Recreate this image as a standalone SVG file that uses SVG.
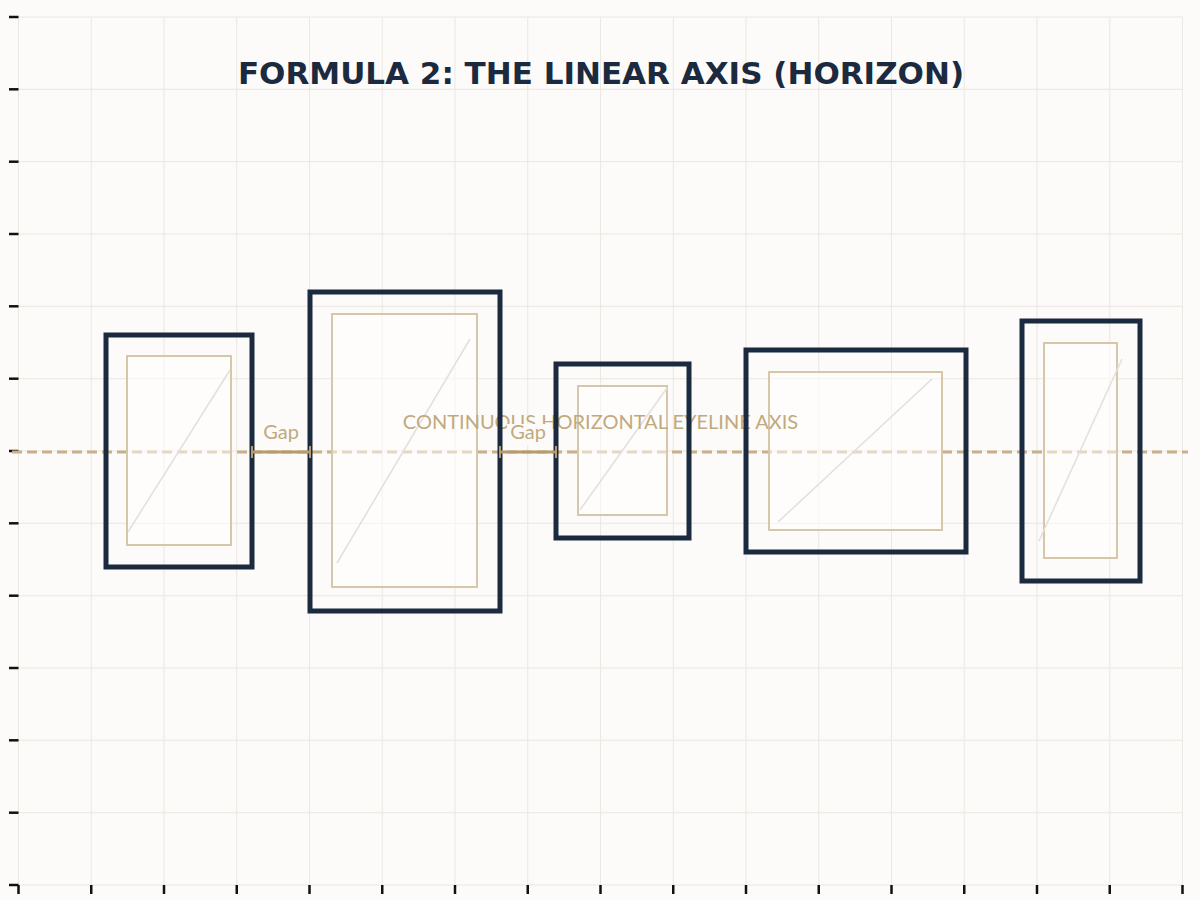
<svg xmlns="http://www.w3.org/2000/svg" width="1200" height="900" viewBox="0 0 1200 900">
<defs>
<style>
.grid{stroke:#ebe7e1;stroke-width:1;fill:none}
.tick{stroke:#111;stroke-width:2.5}
.outer{fill:none;stroke:#1b2a3e;stroke-width:5}
.inner{fill:#ffffff;fill-opacity:0.5;stroke:#d6c7a8;stroke-width:2}
.diag{stroke:#e2e0dc;stroke-width:1.5}
.axis{stroke:#c8b08a;stroke-width:3;stroke-dasharray:10 5}
.gapline{stroke:#b89b6c;stroke-width:3}
.gapbg{fill:#fcfbf9}
.gaptxt{font-family:"Lato","Noto Sans",sans-serif;font-size:20px;fill:#c2a97d;text-anchor:middle}
.axtxt{font-family:"Lato","Noto Sans",sans-serif;font-size:20px;fill:#c2a97d;text-anchor:middle}
.title{font-family:"DejaVu Sans",sans-serif;font-weight:bold;font-size:31px;fill:#1b2a3e;text-anchor:middle}
</style>
</defs>
<rect width="1200" height="900" fill="#fcfbf9"/>
<g id="grid" class="grid">
<line x1="18.5" y1="17" x2="18.5" y2="885"/><line x1="91.25" y1="17" x2="91.25" y2="885"/><line x1="164" y1="17" x2="164" y2="885"/><line x1="236.75" y1="17" x2="236.75" y2="885"/><line x1="309.5" y1="17" x2="309.5" y2="885"/><line x1="382.25" y1="17" x2="382.25" y2="885"/><line x1="455" y1="17" x2="455" y2="885"/><line x1="527.75" y1="17" x2="527.75" y2="885"/><line x1="600.5" y1="17" x2="600.5" y2="885"/><line x1="673.25" y1="17" x2="673.25" y2="885"/><line x1="746" y1="17" x2="746" y2="885"/><line x1="818.75" y1="17" x2="818.75" y2="885"/><line x1="891.5" y1="17" x2="891.5" y2="885"/><line x1="964.25" y1="17" x2="964.25" y2="885"/><line x1="1037" y1="17" x2="1037" y2="885"/><line x1="1109.75" y1="17" x2="1109.75" y2="885"/><line x1="1182.5" y1="17" x2="1182.5" y2="885"/>
<line x1="18.5" y1="17" x2="1182.5" y2="17"/><line x1="18.5" y1="89.3" x2="1182.5" y2="89.3"/><line x1="18.5" y1="161.7" x2="1182.5" y2="161.7"/><line x1="18.5" y1="234" x2="1182.5" y2="234"/><line x1="18.5" y1="306.3" x2="1182.5" y2="306.3"/><line x1="18.5" y1="378.7" x2="1182.5" y2="378.7"/><line x1="18.5" y1="451" x2="1182.5" y2="451"/><line x1="18.5" y1="523.3" x2="1182.5" y2="523.3"/><line x1="18.5" y1="595.7" x2="1182.5" y2="595.7"/><line x1="18.5" y1="668" x2="1182.5" y2="668"/><line x1="18.5" y1="740.3" x2="1182.5" y2="740.3"/><line x1="18.5" y1="812.7" x2="1182.5" y2="812.7"/><line x1="18.5" y1="885" x2="1182.5" y2="885"/>
</g>
<g id="ticks" class="tick">
<line x1="9" y1="17" x2="18.5" y2="17"/><line x1="9" y1="89.3" x2="18.5" y2="89.3"/><line x1="9" y1="161.7" x2="18.5" y2="161.7"/><line x1="9" y1="234" x2="18.5" y2="234"/><line x1="9" y1="306.3" x2="18.5" y2="306.3"/><line x1="9" y1="378.7" x2="18.5" y2="378.7"/><line x1="9" y1="451" x2="18.5" y2="451"/><line x1="9" y1="523.3" x2="18.5" y2="523.3"/><line x1="9" y1="595.7" x2="18.5" y2="595.7"/><line x1="9" y1="668" x2="18.5" y2="668"/><line x1="9" y1="740.3" x2="18.5" y2="740.3"/><line x1="9" y1="812.7" x2="18.5" y2="812.7"/><line x1="9" y1="885" x2="18.5" y2="885"/>
<line x1="18.5" y1="885" x2="18.5" y2="894"/><line x1="91.25" y1="885" x2="91.25" y2="894"/><line x1="164" y1="885" x2="164" y2="894"/><line x1="236.75" y1="885" x2="236.75" y2="894"/><line x1="309.5" y1="885" x2="309.5" y2="894"/><line x1="382.25" y1="885" x2="382.25" y2="894"/><line x1="455" y1="885" x2="455" y2="894"/><line x1="527.75" y1="885" x2="527.75" y2="894"/><line x1="600.5" y1="885" x2="600.5" y2="894"/><line x1="673.25" y1="885" x2="673.25" y2="894"/><line x1="746" y1="885" x2="746" y2="894"/><line x1="818.75" y1="885" x2="818.75" y2="894"/><line x1="891.5" y1="885" x2="891.5" y2="894"/><line x1="964.25" y1="885" x2="964.25" y2="894"/><line x1="1037" y1="885" x2="1037" y2="894"/><line x1="1109.75" y1="885" x2="1109.75" y2="894"/><line x1="1182.5" y1="885" x2="1182.5" y2="894"/>
</g>
<text class="title" x="601" y="84">FORMULA 2: THE LINEAR AXIS (HORIZON)</text>
<g id="connectors">
<line id="eyeline" class="axis" x1="12" y1="452" x2="1188" y2="452"/>
</g>
<g id="frame1-mat"><rect class="inner" x="127" y="356" width="104" height="189"/><line class="diag" x1="128" y1="532" x2="230" y2="370"/></g>
<g id="frame2-mat"><rect class="inner" x="332" y="314" width="145" height="273"/><line class="diag" x1="337" y1="563" x2="470" y2="339"/></g>
<g id="frame3-mat"><rect class="inner" x="578" y="386" width="89" height="129"/><line class="diag" x1="580" y1="510" x2="667" y2="388"/></g>
<g id="frame4-mat"><rect class="inner" x="769" y="372" width="173" height="158"/><line class="diag" x1="778" y1="522" x2="932" y2="379"/></g>
<g id="frame5-mat"><rect class="inner" x="1044" y="343" width="73" height="215"/><line class="diag" x1="1039" y1="541" x2="1122" y2="359"/></g>
<text id="axis-label" class="axtxt" x="600.5" y="429">CONTINUOUS HORIZONTAL EYELINE AXIS</text>
<g id="frame1"><rect class="outer" x="106" y="335" width="146" height="232"/></g>
<g id="frame2"><rect class="outer" x="310" y="292" width="190" height="319"/></g>
<g id="frame3"><rect class="outer" x="556" y="364" width="133" height="174"/></g>
<g id="frame4"><rect class="outer" x="746" y="350" width="220" height="202"/></g>
<g id="frame5"><rect class="outer" x="1022" y="321" width="118" height="260"/></g>
<g id="gap1">
<line class="gapline" x1="252" y1="452" x2="310" y2="452"/>
<line class="gapline" x1="252" y1="446" x2="252" y2="458" style="stroke-width:2"/>
<line class="gapline" x1="310" y1="446" x2="310" y2="458" style="stroke-width:2"/>
<text class="gaptxt" x="281" y="439">Gap</text>
</g>
<g id="gap2">
<line class="gapline" x1="500" y1="452" x2="556" y2="452"/>
<line class="gapline" x1="500" y1="446" x2="500" y2="458" style="stroke-width:2"/>
<line class="gapline" x1="556" y1="446" x2="556" y2="458" style="stroke-width:2"/>
<rect class="gapbg" x="507" y="424" width="44" height="21"/>
<text class="gaptxt" x="528" y="439">Gap</text>
</g>
</svg>
